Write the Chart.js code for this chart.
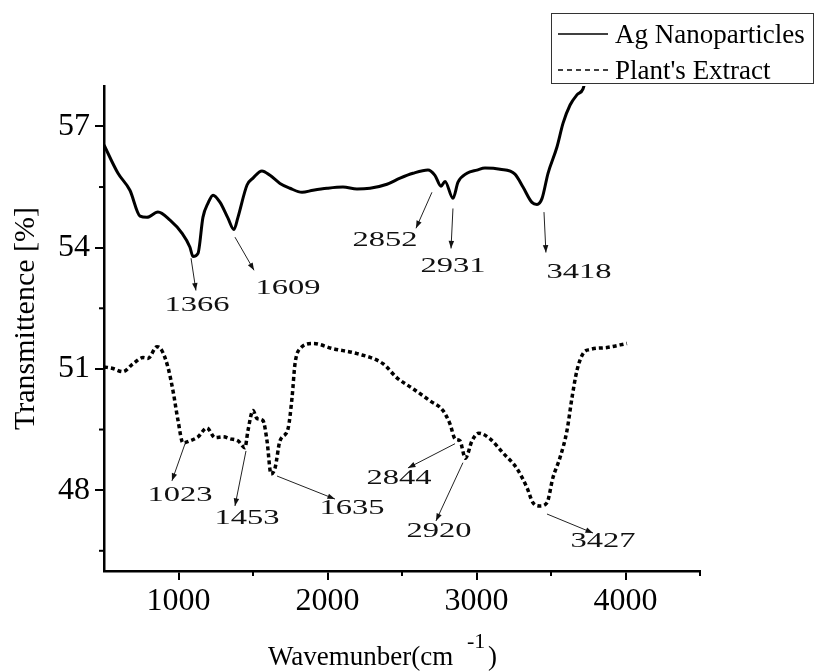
<!DOCTYPE html>
<html>
<head>
<meta charset="utf-8">
<script src="https://cdn.jsdelivr.net/npm/chart.js@4.4.1/dist/chart.umd.min.js"></script>
<style>
html, body { margin: 0; padding: 0; background: #fff; }
</style>
</head>
<body>
<canvas id="ftir" width="815" height="671"></canvas>
<script>
// Ag nanoparticles spectrum (solid)
const agWave = [500, 594, 674, 742, 788, 862, 943, 1023, 1077, 1097, 1131, 1164, 1198, 1232, 1279, 1332, 1372, 1399,
  1460, 1500, 1560, 1614, 1681, 1748, 1829, 1903, 1997, 2104, 2198, 2285, 2399, 2487, 2574, 2674, 2721, 2762, 2789,
  2842, 2876, 2936, 3003, 3057, 3158, 3258, 3312, 3372, 3406, 3440, 3480, 3540, 3581, 3628, 3674, 3715, 3740];
const agTrans = [56.54, 55.84, 55.42, 54.78, 54.75, 54.88, 54.68, 54.36, 54.01, 53.78, 53.86, 54.75, 55.10, 55.30, 55.12, 54.73, 54.45, 54.75,
  55.55, 55.72, 55.90, 55.79, 55.59, 55.47, 55.37, 55.42, 55.47, 55.50, 55.45, 55.47, 55.57, 55.72, 55.84, 55.92, 55.79, 55.52, 55.64,
  55.22, 55.62, 55.84, 55.92, 55.97, 55.94, 55.82, 55.50, 55.12, 55.07, 55.22, 55.84, 56.49, 57.08, 57.53, 57.78, 57.93, 58.3];

// plant extract spectrum (dashed)
const plantWave = [500, 560, 627, 695, 762, 795, 856, 889, 930, 963, 997, 1030, 1077, 1131, 1191, 1245, 1299, 1346, 1399, 1446,
  1466, 1500, 1527, 1567, 1594, 1621, 1648, 1681, 1735, 1762, 1782, 1815, 1903, 2037, 2198, 2372, 2466, 2574, 2688, 2775,
  2822, 2856, 2889, 2925, 2970, 3014, 3091, 3178, 3272, 3339, 3379, 3426, 3473, 3513, 3560, 3607, 3641, 3674, 3715, 3762, 3876, 4010];
const plantTrans = [51.05, 51.01, 50.93, 51.13, 51.28, 51.26, 51.55, 51.45, 51.03, 50.46, 49.72, 49.17, 49.22, 49.32, 49.54, 49.30, 49.32, 49.27, 49.22, 49.05,
  49.47, 49.97, 49.77, 49.72, 49.22, 48.40, 48.55, 49.22, 49.52, 50.29, 51.13, 51.50, 51.63, 51.50, 51.38, 51.13, 50.78, 50.51, 50.21, 49.97,
  49.64, 49.27, 49.22, 48.79, 49.22, 49.41, 49.27, 48.92, 48.53, 48.06, 47.69, 47.61, 47.69, 48.31, 48.80, 49.47, 50.29, 50.96, 51.38, 51.48, 51.53, 51.63];

// peak annotations (data units)
const peakText = ['1366', '1609', '2852', '2931', '3418', '1023', '1453', '1635', '2844', '2920', '3427'];
const peakLabelPos = [[1124, 52.57], [1735, 52.99], [2386, 54.18], [2842, 53.54], [3688, 53.39],
  [1010, 47.88], [1460, 47.29], [2164, 47.54], [2480, 48.28], [2748, 46.97], [3849, 46.74]];
const arrowFrom = [[1084, 53.74], [1379, 54.26], [2701, 55.37], [2842, 54.97], [3453, 54.88],
  [1044, 49.15], [1453, 48.97], [1661, 48.35], [2856, 49.15], [2909, 48.68], [3473, 47.41]];
const arrowTo = [[1117, 52.94], [1507, 53.44], [2594, 54.48], [2829, 53.98], [3466, 53.88],
  [956, 48.23], [1379, 47.61], [2050, 47.78], [2540, 48.55], [2728, 47.24], [3782, 46.94]];

// tick values
const xTicks = [1000, 2000, 3000, 4000];
const yTicks = [48, 51, 54, 57];
const minorX = [1500, 2500, 3500, 4500];
const minorY = [46.5, 49.5, 52.5, 55.5];

const serif = "'Liberation Serif', 'DejaVu Serif', serif";

function toPoints(xs, ys) {
  return xs.map((x, i) => ({ x: x, y: ys[i] }));
}

function drawArrow(ctx, x1, y1, x2, y2) {
  const a = Math.atan2(y2 - y1, x2 - x1);
  ctx.beginPath();
  ctx.moveTo(x1, y1);
  ctx.lineTo(x2, y2);
  ctx.stroke();
  ctx.beginPath();
  ctx.moveTo(x2, y2);
  ctx.lineTo(x2 - 8 * Math.cos(a - 0.35), y2 - 8 * Math.sin(a - 0.35));
  ctx.lineTo(x2 - 8 * Math.cos(a + 0.35), y2 - 8 * Math.sin(a + 0.35));
  ctx.closePath();
  ctx.fill();
}

const extras = {
  id: 'extras',
  afterDraw(chart) {
    const ctx = chart.ctx;
    const xs = chart.scales.x, ys = chart.scales.y;
    const area = chart.chartArea;
    ctx.save();

    // minor ticks
    ctx.strokeStyle = '#000';
    ctx.lineWidth = 2;
    minorX.forEach(v => {
      const px = xs.getPixelForValue(v);
      ctx.beginPath(); ctx.moveTo(px, area.bottom); ctx.lineTo(px, area.bottom + 5); ctx.stroke();
    });
    minorY.forEach(v => {
      const py = ys.getPixelForValue(v);
      ctx.beginPath(); ctx.moveTo(area.left, py); ctx.lineTo(area.left - 5, py); ctx.stroke();
    });

    // peak arrows + labels
    ctx.strokeStyle = '#222';
    ctx.fillStyle = '#111';
    ctx.lineWidth = 1;
    peakText.forEach((t, i) => {
      drawArrow(ctx,
        xs.getPixelForValue(arrowFrom[i][0]), ys.getPixelForValue(arrowFrom[i][1]),
        xs.getPixelForValue(arrowTo[i][0]), ys.getPixelForValue(arrowTo[i][1]));
      ctx.save();
      ctx.translate(xs.getPixelForValue(peakLabelPos[i][0]), ys.getPixelForValue(peakLabelPos[i][1]));
      ctx.scale(1.55, 1);
      ctx.font = '21px ' + serif;
      ctx.textAlign = 'center';
      ctx.textBaseline = 'middle';
      ctx.fillText(t, 0, 0);
      ctx.restore();
    });

    // axis titles
    ctx.fillStyle = '#000';
    ctx.save();
    ctx.translate(26, (area.top + area.bottom) / 2 - 10);
    ctx.rotate(-Math.PI / 2);
    ctx.font = '30px ' + serif;
    ctx.textAlign = 'center';
    ctx.textBaseline = 'middle';
    ctx.fillText('Transmittence [%]', 0, 0);
    ctx.restore();

    ctx.textAlign = 'left';
    ctx.textBaseline = 'alphabetic';
    ctx.font = '27px ' + serif;
    ctx.fillText('Wavemunber(cm', 268, 665);
    ctx.fillText(')', 488, 665);
    ctx.font = '22px ' + serif;
    ctx.fillText('-1', 467, 648);

    // legend box
    ctx.strokeStyle = '#333';
    ctx.lineWidth = 1;
    ctx.strokeRect(551.5, 13.5, 262, 70);
    const rows = [34, 70];
    chart.data.datasets.forEach((ds, i) => {
      ctx.strokeStyle = '#000';
      ctx.lineWidth = 1.5;
      ctx.setLineDash(i === 1 ? [5, 4] : []);
      ctx.beginPath(); ctx.moveTo(558, rows[i]); ctx.lineTo(608, rows[i]); ctx.stroke();
      ctx.setLineDash([]);
      ctx.font = '27px ' + serif;
      ctx.fillText(ds.label, 615, rows[i] + 9);
    });
    ctx.restore();
  }
};

new Chart(document.getElementById('ftir'), {
  type: 'line',
  data: {
    datasets: [{
      label: 'Ag Nanoparticles',
      data: toPoints(agWave, agTrans),
      borderColor: '#000',
      borderWidth: 3,
      fill: false
    }, {
      label: "Plant's Extract",
      data: toPoints(plantWave, plantTrans),
      borderColor: '#000',
      borderWidth: 3.5,
      borderDash: [4, 3],
      fill: false
    }]
  },
  options: {
    responsive: false,
    animation: false,
    layout: { padding: { top: 86, right: 115, left: 0, bottom: 0 } },
    elements: {
      point: { radius: 0 },
      line: { cubicInterpolationMode: 'monotone' }
    },
    plugins: {
      legend: { display: false },
      tooltip: { enabled: false }
    },
    scales: {
      x: {
        type: 'linear',
        min: 500,
        max: 4500,
        afterBuildTicks: s => { s.ticks = xTicks.map(v => ({ value: v })); },
        ticks: {
          autoSkip: false,
          maxRotation: 0,
          padding: 2,
          color: '#000',
          font: { family: serif, size: 32 },
          callback: v => String(v)
        },
        grid: { drawOnChartArea: false, tickLength: 9, color: '#000', lineWidth: 2 },
        border: { color: '#000', width: 2.5 },
        afterFit: s => { s.height = 100; }
      },
      y: {
        min: 46,
        max: 58,
        afterBuildTicks: s => { s.ticks = yTicks.map(v => ({ value: v })); },
        ticks: {
          padding: 5,
          color: '#000',
          font: { family: serif, size: 32 },
          callback: v => String(v)
        },
        grid: { drawOnChartArea: false, tickLength: 9, color: '#000', lineWidth: 2 },
        border: { color: '#000', width: 2.5 },
        afterFit: s => { s.width = 104; }
      }
    }
  },
  plugins: [extras]
});
</script>
</body>
</html>
